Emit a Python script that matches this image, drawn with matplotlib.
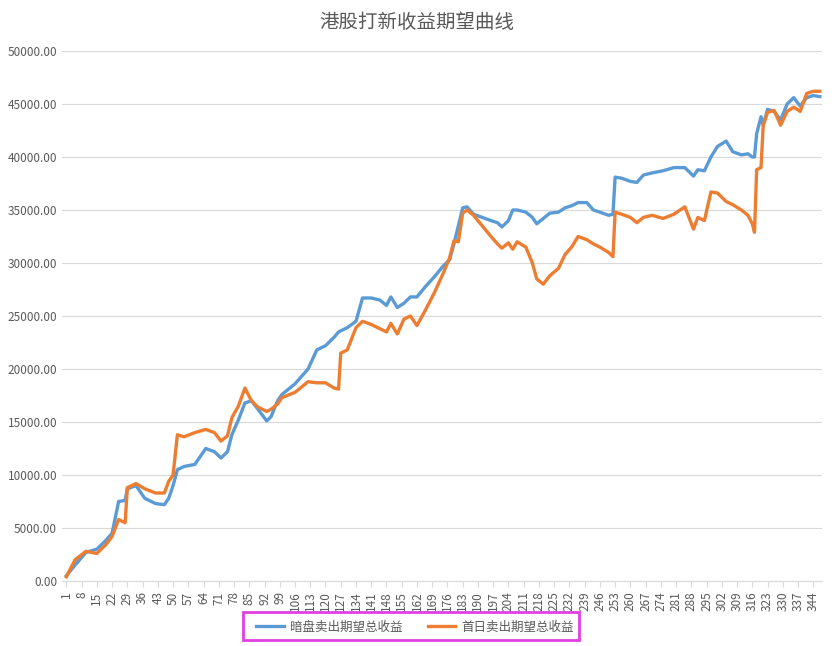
import matplotlib
matplotlib.use("Agg")
import matplotlib.pyplot as plt
from matplotlib.patches import Rectangle

plt.rcParams['font.family'] = ['Noto Sans CJK SC', 'DejaVu Sans']

title = "港股打新收益期望曲线"
series_names = ["暗盘卖出期望总收益", "首日卖出期望总收益"]
idx = [1,5,10,15,19,22,25,28,29,33,37,42,46,48,50,52,55,60,65,69,72,75,77,80,83,86,89,93,95,98,
       100,106,112,116,120,124,126,127,130,134,137,141,145,148,150,153,156,159,162,166,170,174,177,179,181,183,185,188,192,196,
       199,201,204,206,208,212,215,217,220,223,227,230,233,236,240,243,246,250,252,253,256,260,263,266,270,275,280,285,289,291,
       294,297,300,304,307,311,314,316,317,318,320,321,323,326,329,332,335,338,341,344,347]
blue = [500,1500,2700,3000,3800,4500,7500,7600,8700,9000,7800,7300,7200,7800,9000,10500,10800,11000,12500,12200,11600,12200,13800,15200,16800,17000,16200,15100,15500,17000,
        17600,18600,20000,21800,22200,23000,23500,23600,23900,24500,26700,26700,26500,26000,26800,25800,26200,26800,26800,27800,28700,29700,30300,31800,33500,35200,35300,34600,34300,34000,
        33800,33400,34000,35000,35000,34800,34300,33700,34200,34700,34800,35200,35400,35700,35700,35000,34800,34500,34600,38100,38000,37700,37600,38300,38500,38700,39000,39000,38200,38800,
        38700,40000,41000,41500,40500,40200,40300,40000,40000,42200,43800,43000,44500,44300,43500,45000,45600,44800,45600,45800,45700]
orange = [400,2000,2800,2600,3400,4200,5800,5500,8800,9200,8700,8300,8300,9400,10000,13800,13600,14000,14300,14000,13200,13700,15400,16500,18200,17000,16400,16000,16200,16700,
          17300,17800,18800,18700,18700,18200,18100,21500,21800,23900,24500,24200,23800,23500,24300,23300,24700,25000,24100,25600,27200,29000,30500,32100,32000,34700,35000,34500,33500,32500,
          31800,31400,31900,31300,32000,31500,30000,28500,28000,28800,29500,30800,31500,32500,32200,31800,31500,31000,30600,34800,34600,34300,33800,34300,34500,34200,34600,35300,33200,34300,
          34000,36700,36600,35800,35500,35000,34500,33700,32900,38800,39000,43000,44200,44400,43000,44300,44700,44300,46000,46200,46200]
xticks = list(range(1, 348, 7))

fig = plt.figure(figsize=(8.34, 6.46), dpi=100)
ax = fig.add_axes([62/834, 65/646, 760/834, 530/646])
ax.plot(idx, blue, color='#5B9BD5', lw=2.4, label=series_names[0])
ax.plot(idx, orange, color='#ED7D31', lw=2.4, label=series_names[1])
ax.set_xlim(-1, 348)
ax.set_ylim(0, 50000)
ax.set_yticks(range(0, 50001, 5000))
ax.set_yticklabels([f"{v:.2f}" for v in range(0, 50001, 5000)], fontsize=8.5, color='#595959')
ax.set_xticks(xticks)
ax.set_xticklabels([str(t) for t in xticks], rotation=90, fontsize=8.5, color='#595959')
ax.grid(axis='y', color='#D9D9D9', lw=0.8)
ax.set_axisbelow(True)
for s in ['top', 'right', 'left']:
    ax.spines[s].set_visible(False)
ax.spines['bottom'].set_color('#D9D9D9')
ax.tick_params(axis='y', length=0)
ax.tick_params(axis='x', length=4, color='#D9D9D9')
fig.text(0.5, 1 - 22/646, title, ha='center', va='center', fontsize=14, color='#595959')
leg = fig.legend(loc='center', bbox_to_anchor=(415/834, 1 - 627/646), ncol=2, frameon=False,
                 fontsize=9, handlelength=2.2, handletextpad=0.5, columnspacing=2.0)
for t in leg.get_texts():
    t.set_color('#595959')
fig.patches.append(Rectangle((243/834, 1 - 640/646), 336/834, 28/646, transform=fig.transFigure,
                             fill=False, edgecolor='#E040E0', lw=2))
fig.savefig("out.png", dpi=100)
